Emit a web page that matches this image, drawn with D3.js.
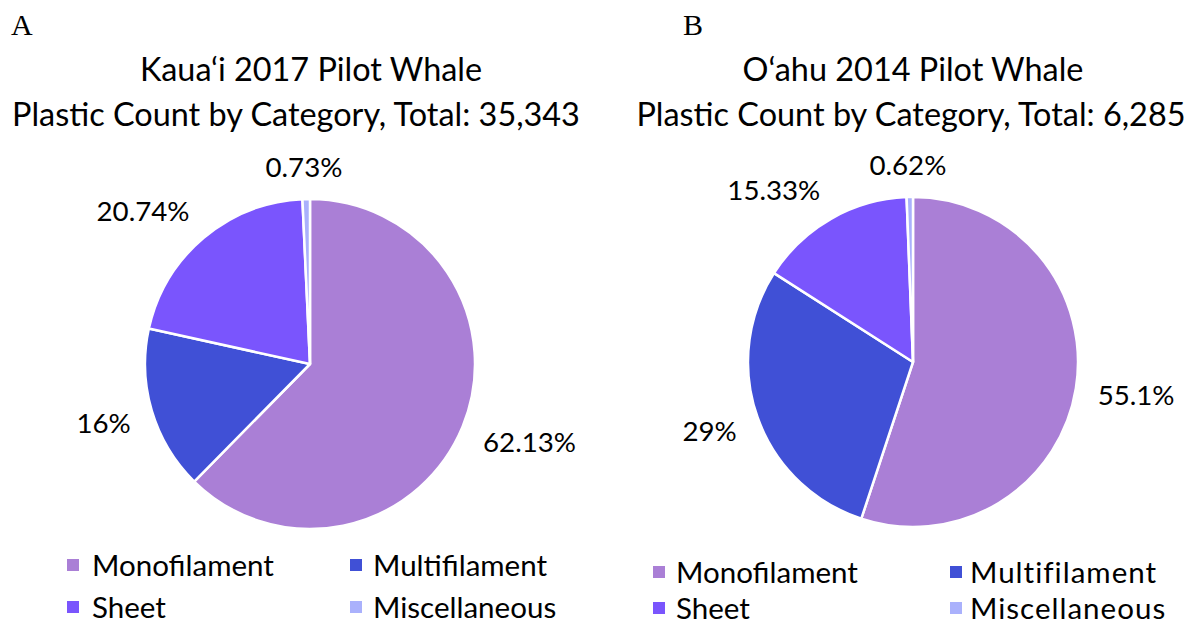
<!DOCTYPE html>
<html>
<head>
<meta charset="utf-8">
<script src="https://cdn.jsdelivr.net/npm/d3@7"></script>
<style>
  html, body { margin: 0; padding: 0; background: #fff; }
  svg { display: block; }
</style>
</head>
<body>
<svg id="chart" width="1203" height="626"></svg>
<script>
// ---------------- data ----------------
const categories = ["Monofilament", "Multifilament", "Sheet", "Miscellaneous"];
const kauaiValues = [62.13, 16, 20.74, 0.73];
const oahuValues = [55.1, 29, 15.33, 0.62];
const kauaiLabels = ["62.13%", "16%", "20.74%", "0.73%"];
const oahuLabels = ["55.1%", "29%", "15.33%", "0.62%"];
const panelLetters = ["A", "B"];
const titleLine1 = ["Kaua\u2018i 2017 Pilot Whale", "O\u2018ahu 2014 Pilot Whale"];
const titleLine2 = ["Plastic Count by Category, Total: 35,343", "Plastic Count by Category, Total: 6,285"];
const colors = ["#AA7FD6", "#4050D6", "#7A55FD", "#AAB1FC"];

// ---------------- layout ----------------
const panels = [
  { values: kauaiValues, labels: kauaiLabels, cx: 310, cy: 364, letterX: 11, t1x: 311, t2x: 296,
    legCol: [67, 350], legTextCol: [92, 373], legRow: [565, 607], legSpacing: 0 },
  { values: oahuValues, labels: oahuLabels, cx: 913, cy: 362, letterX: 683, t1x: 913, t2x: 911,
    legCol: [653, 950], legTextCol: [676, 970], legRow: [572, 608], legSpacing: 1 }
];
const radius = 165;
const labelRadius = 187;
const sansFont = "Lato, 'Open Sans', sans-serif";

const svg = d3.select("#chart");
const color = d3.scaleOrdinal().domain(categories).range(colors);
const pie = d3.pie().sort(null).value(d => d.value);
const arc = d3.arc().innerRadius(0).outerRadius(radius);

// helper: fit font size so a sample string has a target width
function fitSize(sample, target, family, base) {
  const t = svg.append("text").attr("font-family", family).attr("font-size", base).text(sample);
  const w = t.node().getComputedTextLength();
  t.remove();
  return base * target / w;
}
const titleSize = fitSize(titleLine2[0], 568, sansFont, 30);
const labelSize = fitSize("62.13%", 93, sansFont, 26);
const legendSize = fitSize("Monofilament", 182, sansFont, 28);

const clamp = v => Math.max(-1, Math.min(1, v));

panels.forEach((p, i) => {
  const g = svg.append("g");

  // panel letter
  g.append("text")
    .attr("x", p.letterX).attr("y", 35)
    .attr("font-family", "'Liberation Serif', 'Times New Roman', serif")
    .attr("font-size", 30).attr("fill", "#000")
    .text(panelLetters[i]);

  // titles
  g.append("text")
    .attr("x", p.t1x).attr("y", 81)
    .attr("text-anchor", "middle")
    .attr("font-family", sansFont).attr("font-size", titleSize).attr("fill", "#000")
    .text(titleLine1[i]);
  g.append("text")
    .attr("x", p.t2x).attr("y", 126)
    .attr("text-anchor", "middle")
    .attr("font-family", sansFont).attr("font-size", titleSize).attr("fill", "#000")
    .text(titleLine2[i]);

  // pie
  const data = categories.map((c, k) => ({ cat: c, value: p.values[k], label: p.labels[k] }));
  const arcs = pie(data);
  const pg = g.append("g").attr("transform", `translate(${p.cx},${p.cy})`);
  pg.selectAll("path").data(arcs).join("path")
    .attr("d", arc)
    .attr("fill", d => color(d.data.cat))
    .attr("stroke", "#fff")
    .attr("stroke-width", 2.5)
    .attr("stroke-linejoin", "round");

  // labels
  arcs.forEach(a => {
    const mid = (a.startAngle + a.endAngle) / 2;
    const s = Math.sin(mid), c = Math.cos(mid);
    const t = pg.append("text")
      .attr("font-family", sansFont).attr("font-size", labelSize).attr("fill", "#000")
      .attr("text-anchor", "middle")
      .text(a.data.label);
    const w = t.node().getComputedTextLength();
    const h = labelSize * 0.72;
    const px = labelRadius * s, py = -labelRadius * c;
    const lx = px + (w / 2) * clamp(2 * s);
    const ly = py - (h / 2) * clamp(2 * c);
    t.attr("x", lx).attr("y", ly + h / 2);
  });

  // legend
  const lg = g.append("g");
  categories.forEach((cat, k) => {
    const col = k % 2, row = Math.floor(k / 2);
    const y = p.legRow[row];
    lg.append("rect")
      .attr("x", p.legCol[col]).attr("y", y - 6)
      .attr("width", 12).attr("height", 12)
      .attr("fill", color(cat));
    lg.append("text")
      .attr("x", p.legTextCol[col]).attr("y", y + legendSize * 0.36)
      .attr("font-family", sansFont).attr("font-size", legendSize).attr("fill", "#000")
      .attr("letter-spacing", col === 1 ? p.legSpacing : 0)
      .text(cat);
  });
});
</script>
</body>
</html>
